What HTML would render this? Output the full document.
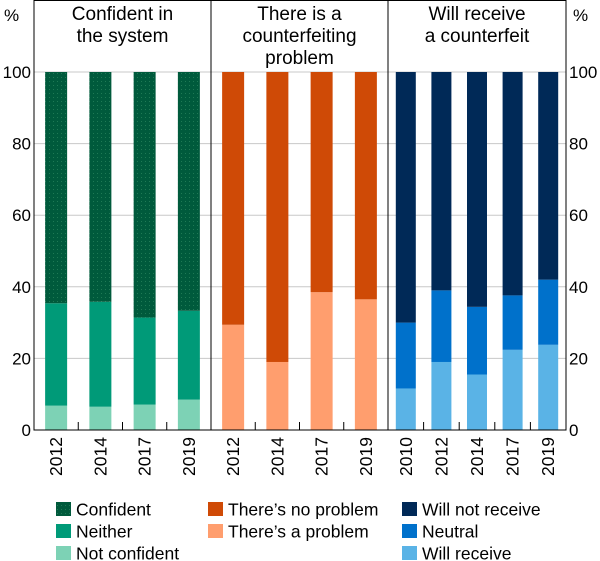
<!DOCTYPE html>
<html><head><meta charset="utf-8"><style>
body{margin:0;background:#fff;}
svg{display:block;font-family:"Liberation Sans",Arial,sans-serif;}
</style></head><body>
<svg id="c" width="600" height="561" viewBox="0 0 600 561">
<defs>
<pattern id="dots" width="4" height="4" patternUnits="userSpaceOnUse"><rect width="4" height="4" fill="#005a3c"/><rect x="1" y="1" width="1" height="1" fill="#1f7a55"/></pattern>
</defs>
<g id="grid"></g>
<g id="bars"></g>
<g id="axes"></g>
<g id="legend"></g>
</svg>
<script>
const yTicks=[0,20,40,60,80,100];
const p1Years=["2012","2014","2017","2019"];
const p1NotConfident=[6.8,6.5,7.1,8.5];
const p1Neither=[28.6,29.3,24.3,24.8];
const p1Confident=[64.6,64.2,68.6,66.7];
const p2Years=["2012","2014","2017","2019"];
const p2Problem=[29.4,19.0,38.5,36.5];
const p2NoProblem=[70.6,81.0,61.5,63.5];
const p3Years=["2010","2012","2014","2017","2019"];
const p3Receive=[11.6,19.0,15.5,22.4,23.8];
const p3Neutral=[18.4,20.0,18.9,15.2,18.2];
const p3NotReceive=[70.0,61.0,65.6,62.4,58.0];
const titles=[["Confident in","the system"],["There is a","counterfeiting","problem"],["Will receive","a counterfeit"]];

const NS="http://www.w3.org/2000/svg";
const L=34,R=566,T=0,B=430,Y100=72;
function y(v){return B-(B-Y100)*v/100;}
function mk(tag,attrs,parent){const e=document.createElementNS(NS,tag);for(const k in attrs)e.setAttribute(k,attrs[k]);parent.appendChild(e);return e;}
const grid=document.getElementById('grid'),bars=document.getElementById('bars'),axes=document.getElementById('axes'),leg=document.getElementById('legend');

yTicks.forEach(t=>{
  if(t>0){const g=mk('line',{x1:L,x2:R,y1:y(t),y2:y(t),stroke:'#c8c8c8','stroke-width':1},grid);
  
  }
  const a=mk('text',{x:31,y:y(t)+6,'text-anchor':'end','font-size':17,fill:'#000'},axes);a.textContent=t;
  
  
  const b=mk('text',{x:569,y:y(t)+6,'text-anchor':'start','font-size':17,fill:'#000'},axes);b.textContent=t;
  
  
});
[[4,'left'],[ 573,'right']].forEach(([x,s])=>{const p=mk('text',{x:x,y:21,'font-size':17},axes);p.textContent='%';

});

const panels=[
 {x0:34,x1:211,years:p1Years,w:22,series:[[p1NotConfident,'#7dd2b5'],[p1Neither,'#009a78'],[p1Confident,'url(#dots)']],name:'confident'},
 {x0:211,x1:388,years:p2Years,w:22,series:[[p2Problem,'#ff9e6e'],[p2NoProblem,'#cf4a06']],name:'problem'},
 {x0:388,x1:566,years:p3Years,w:20,series:[[p3Receive,'#5ab3e6'],[p3Neutral,'#0071cb'],[p3NotReceive,'#002957']],name:'receive'}
];
panels.forEach((p,pi)=>{
  const n=p.years.length,step=(p.x1-p.x0)/n;
  p.years.forEach((yr,i)=>{
    const cx=p.x0+step*(i+0.5);let base=0;
    p.series.forEach(([arr,col],si)=>{
      const v=arr[i];
      const r=mk('rect',{x:cx-p.w/2,y:y(base+v),width:p.w,height:y(base)-y(base+v),fill:col},bars);
      
      
      base+=v;
    });
    const tx=mk('text',{transform:`translate(${cx+6},437) rotate(-90)`,'text-anchor':'end','font-size':17.5},axes);tx.textContent=yr;
    
    
    if(i>0){const tk=mk('line',{x1:p.x0+step*i,x2:p.x0+step*i,y1:B,y2:B-8,stroke:'#000'},axes);
    
    }
  });
  const cx=(p.x0+p.x1)/2;
  titles[pi].forEach((line,li)=>{const t=mk('text',{x:cx,y:20+li*22,'text-anchor':'middle','font-size':19},axes);t.textContent=line;
  
  });
});
mk('rect',{x:L,y:T+0.5,width:R-L,height:B-T-0.5,fill:'none',stroke:'#000','stroke-width':1},axes);
[211,388].forEach(x=>{const d=mk('line',{x1:x,x2:x,y1:0,y2:B,stroke:'#000'},axes);

});

const legItems=[[56,509,'url(#dots)','Confident'],[56,531,'#009a78','Neither'],[56,553,'#7dd2b5','Not confident'],
[208,509,'#cf4a06','There\u2019s no problem'],[208,531,'#ff9e6e','There\u2019s a problem'],
[402,509,'#002957','Will not receive'],[402,531,'#0071cb','Neutral'],[402,553,'#5ab3e6','Will receive']];
legItems.forEach(([x,yy,c,t])=>{
  const g=mk('g',{},leg);
  
  
  mk('rect',{x:x,y:yy-7,width:15,height:14,fill:c},g);
  const tx=mk('text',{x:x+20,y:yy+6.5,'font-size':17.5},g);tx.textContent=t;
});
</script>
</body></html>
